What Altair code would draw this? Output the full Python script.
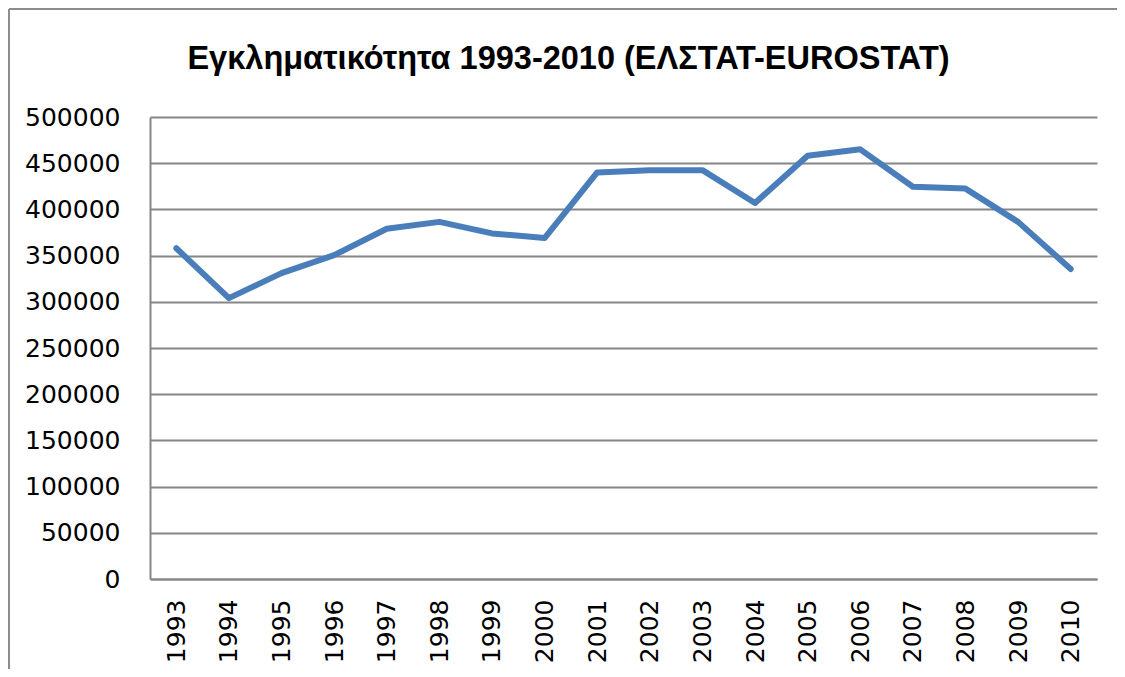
import altair as alt
import pandas as pd

years = [str(y) for y in range(1993, 2011)]
crimes = [358000, 304000, 331000, 350500, 379000, 386500, 374000, 369000,
          440000, 442500, 442500, 407000, 458000, 465000, 424500, 422500,
          386500, 335500]
y_ticks = list(range(0, 500001, 50000))

df = pd.DataFrame({"year": years, "crimes": crimes})

W, H = 947, 462

line = alt.Chart(df).mark_line(color="#4a7ebb", strokeWidth=6, strokeCap="round",
                               strokeJoin="round").encode(
    x=alt.X("year:O", sort=years, title=None,
            scale=alt.Scale(type="point", padding=0.5),
            axis=alt.Axis(labelAngle=270, labelFont="DejaVu Sans", labelFontSize=25,
                          labelColor="black", labelPadding=20, ticks=False,
                          domainColor="#868686", domainWidth=2, grid=False)),
    y=alt.Y("crimes:Q", title=None,
            scale=alt.Scale(domain=[0, 500000], nice=False),
            axis=alt.Axis(values=y_ticks, format="d", labelFont="DejaVu Sans",
                          labelFontSize=25, labelColor="black", labelPadding=30,
                          ticks=False, domainColor="#868686", domainWidth=2,
                          grid=True, gridColor="#868686", gridWidth=2)),
)

frame_top = alt.Chart(df).mark_rule(color="#8c8c8c", strokeWidth=2).encode(
    x=alt.value(-141), x2=alt.value(W + 25), y=alt.value(-108))
frame_left = alt.Chart(df).mark_rule(color="#8c8c8c", strokeWidth=2).encode(
    x=alt.value(-141), y=alt.value(-108), y2=alt.value(H + 100))

chart = alt.layer(frame_top, frame_left, line).properties(
    width=W, height=H,
    autosize=alt.AutoSizeParams(type="none"),
    padding={"left": 142, "top": 109, "right": 20, "bottom": 90},
    title=alt.Title("Εγκληματικότητα 1993-2010 (ΕΛΣΤΑΤ-EUROSTAT)",
                    font="Liberation Sans", fontSize=32.5, fontWeight="bold",
                    color="black", anchor="middle", frame="group", dx=-55,
                    baseline="alphabetic", offset=-93),
).configure_view(stroke=None)

chart.save("out.html", embed_options={"renderer": "svg", "actions": False})
